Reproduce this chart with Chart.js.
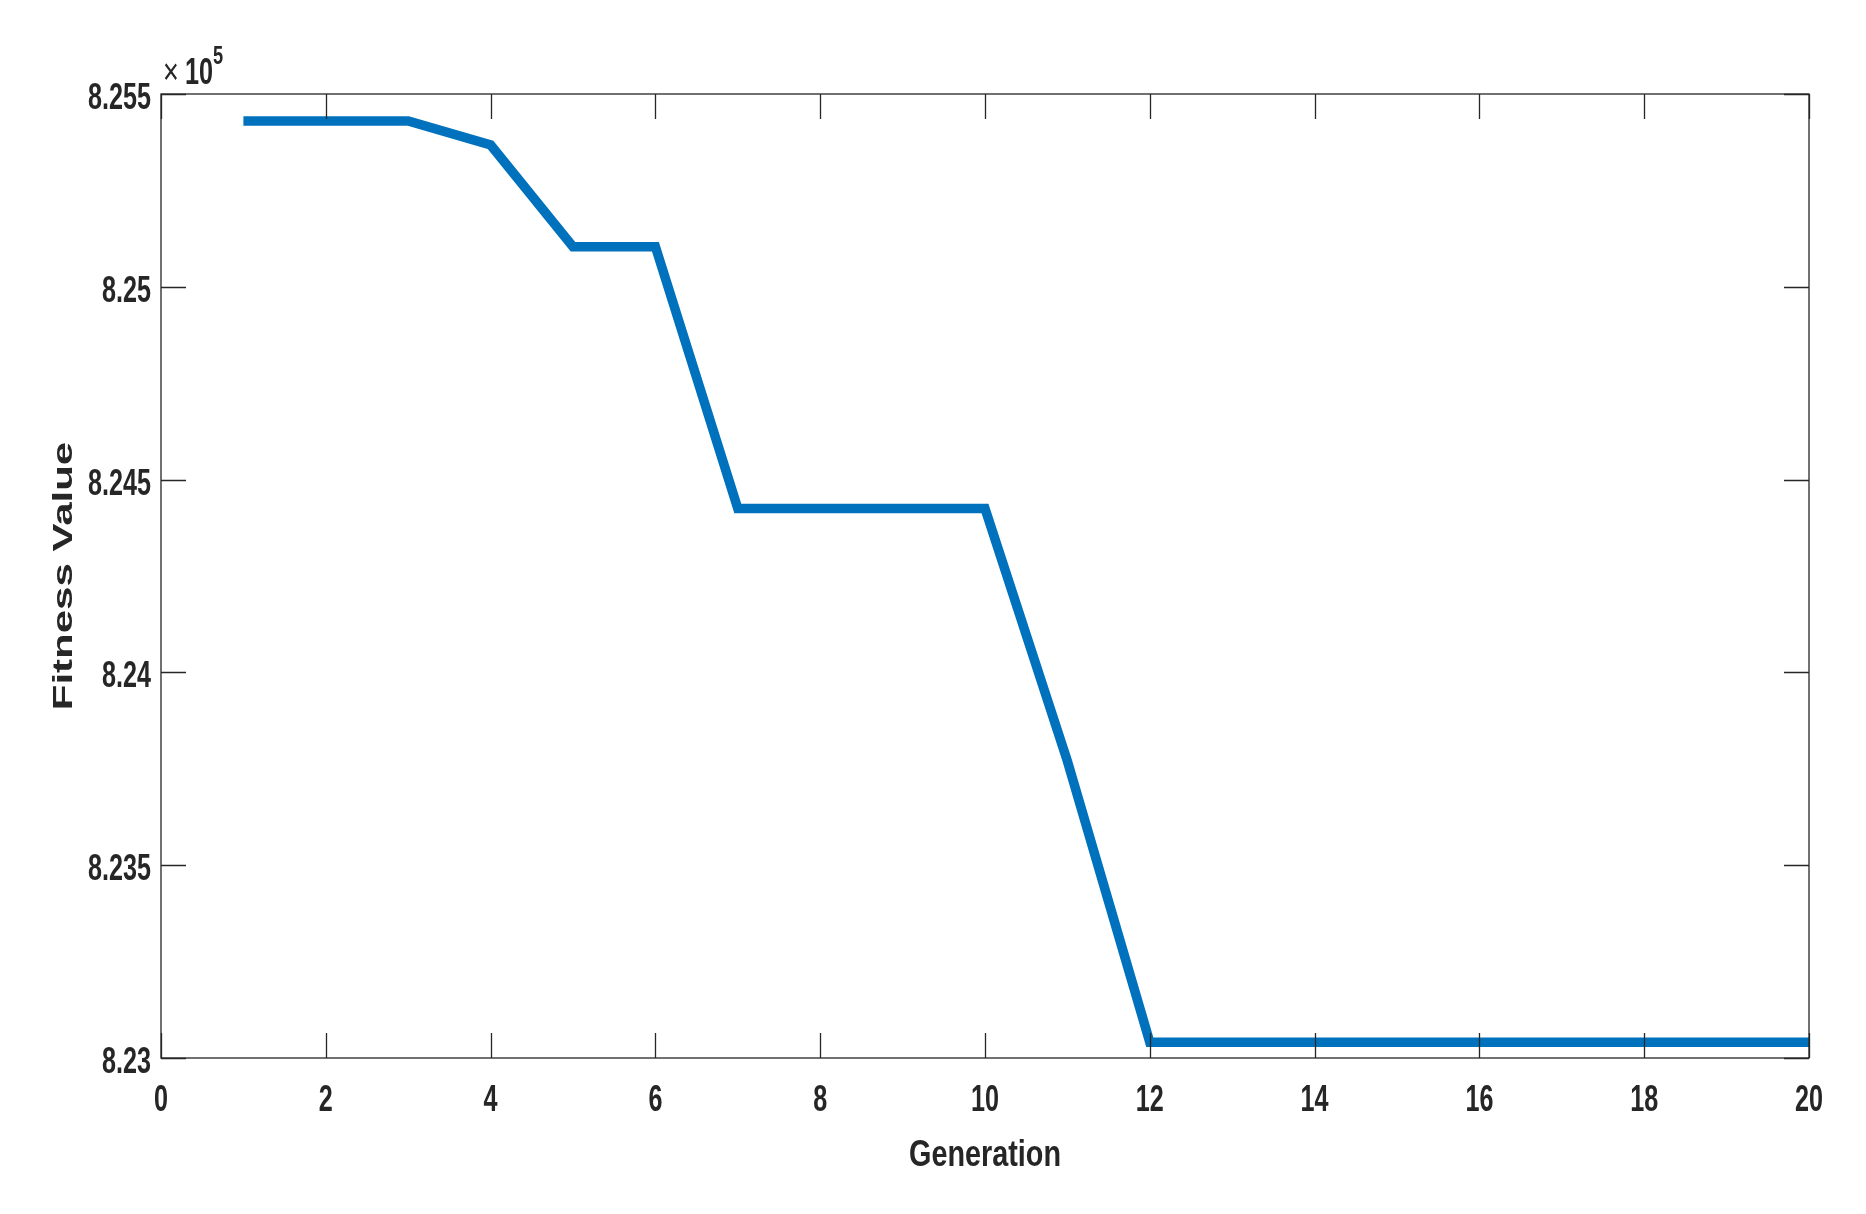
<!DOCTYPE html>
<html>
<head>
<meta charset="utf-8">
<script src="https://cdn.jsdelivr.net/npm/chart.js@4/dist/chart.umd.min.js"></script>
<style>
  html, body { margin: 0; padding: 0; background: #fff; }
  #wrap { width: 1866px; height: 1214px; }
</style>
</head>
<body>
<div id="wrap"><canvas id="chart"></canvas></div>
<script>
const generations = [1, 2, 3, 4, 5, 6, 7, 8, 9, 10, 11, 12, 13, 14, 15, 16, 17, 18, 19, 20]
const fitness = [825430, 825430, 825430, 825368, 825104, 825104, 824425, 824425, 824425, 824425,
    823770, 823041, 823041, 823041, 823041, 823041, 823041, 823041, 823041, 823041]
const yTicks = [823000, 823500, 824000, 824500, 825000, 825500]
const yTickLabels = ['8.23', '8.235', '8.24', '8.245', '8.25', '8.255']
const xTickLabels = ['0', '2', '4', '6', '8', '10', '12', '14', '16', '18', '20']
const xTitle = 'Generation'
const yTitle = 'Fitness Value'

const ink = '#262626'
const sans = '"Liberation Sans", Arial, sans-serif'

// the original figure was stretched tall, so text is drawn squeezed sideways
function squashText(ctx, text, x, y, font, sx, align, rotate) {
    ctx.save()
    ctx.translate(x, y)
    if (rotate) ctx.rotate(-Math.PI / 2)
    ctx.scale(sx, 1)
    ctx.font = font
    ctx.textAlign = align
    ctx.textBaseline = 'alphabetic'
    ctx.fillText(text, 0, 0)
    ctx.restore()
}

// matlab style box with inward ticks on all four sides, labels and the x10^5 exponent
const boxPlugin = {
    id: 'box',
    afterDatasetsDraw(chart) {
        const { ctx, chartArea: a, scales } = chart
        ctx.save()
        ctx.strokeStyle = ink
        ctx.lineWidth = 1.3
        ctx.strokeRect(a.left, a.top, a.right - a.left, a.bottom - a.top)
        const len = 25
        ctx.beginPath()
        scales.x.ticks.forEach(t => {
            const px = Math.round(scales.x.getPixelForValue(t.value)) + 0.5
            ctx.moveTo(px, a.bottom); ctx.lineTo(px, a.bottom - len)
            ctx.moveTo(px, a.top); ctx.lineTo(px, a.top + len)
        })
        scales.y.ticks.forEach(t => {
            const py = Math.round(scales.y.getPixelForValue(t.value)) + 0.5
            ctx.moveTo(a.left, py); ctx.lineTo(a.left + len, py)
            ctx.moveTo(a.right, py); ctx.lineTo(a.right - len, py)
        })
        ctx.stroke()
        ctx.fillStyle = ink

        const tickFont = 'bold 37px ' + sans
        scales.x.ticks.forEach((t, i) => {
            const px = scales.x.getPixelForValue(t.value)
            squashText(ctx, xTickLabels[i], px, a.bottom + 53, tickFont, 0.68, 'center')
        })
        scales.y.ticks.forEach((t, i) => {
            const py = scales.y.getPixelForValue(t.value)
            squashText(ctx, yTickLabels[i], a.left - 10, py + 15, tickFont, 0.68, 'right')
        })

        squashText(ctx, xTitle, (a.left + a.right) / 2, a.bottom + 108, 'bold 36px ' + sans, 0.8, 'center')

        // y title: rotated, so squeezing across means stretching along the text
        ctx.save()
        ctx.translate(72, (a.top + a.bottom) / 2)
        ctx.rotate(-Math.PI / 2)
        ctx.scale(1.5, 1)
        ctx.font = 'bold 28px ' + sans
        ctx.textAlign = 'center'
        ctx.textBaseline = 'alphabetic'
        ctx.fillText(yTitle, 0, 0)
        ctx.restore()

        squashText(ctx, '\u00d7', a.left + 2, a.top - 10, '36px ' + sans, 0.75, 'left')
        squashText(ctx, '10', a.left + 24, a.top - 10, 'bold 36px ' + sans, 0.7, 'left')
        squashText(ctx, '5', a.left + 52, a.top - 30, 'bold 26px ' + sans, 0.7, 'left')
        ctx.restore()
    }
}

const ctx = document.getElementById('chart').getContext('2d')

const chart = new Chart(ctx, {
    type: 'line',
    data: {
        datasets: [{
            label: 'Fitness',
            data: generations.map((g, i) => ({ x: g, y: fitness[i] })),
            borderColor: '#0072BD',
            borderWidth: 9.5,
            pointRadius: 0,
            tension: 0,
            fill: false
        }]
    },
    options: {
        responsive: true,
        maintainAspectRatio: false,
        animation: false,
        layout: { padding: { left: 0, right: 57, top: 94, bottom: 0 } },
        plugins: {
            legend: { display: false },
            tooltip: { enabled: false }
        },
        scales: {
            x: {
                type: 'linear',
                min: 0,
                max: 20,
                grid: { display: false, drawTicks: false },
                border: { display: false },
                ticks: { stepSize: 2, display: false },
                afterFit(s) { s.height = 156 }
            },
            y: {
                min: 823000,
                max: 825500,
                grid: { display: false, drawTicks: false },
                border: { display: false },
                afterBuildTicks(s) { s.ticks = yTicks.map(v => ({ value: v })) },
                ticks: { display: false },
                afterFit(s) { s.width = 161 }
            }
        }
    },
    plugins: [boxPlugin]
})
</script>
</body>
</html>
